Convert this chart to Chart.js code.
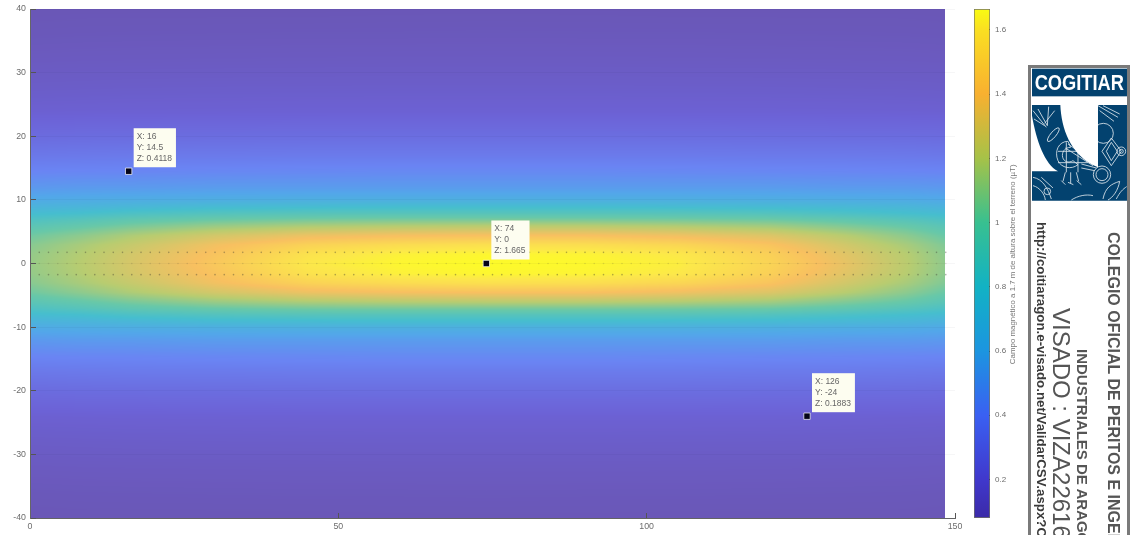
<!DOCTYPE html>
<html>
<head>
<meta charset="utf-8">
<title>Campo magnético</title>
<script src="https://cdn.jsdelivr.net/npm/chart.js@4/dist/chart.umd.min.js"></script>
<style>
  html, body { margin: 0; padding: 0; background: #fff; overflow: hidden; }
  body { width: 1135px; height: 535px; position: relative; }
  canvas { position: absolute; top: 0; display: block; filter: blur(0.4px); }
  #fieldChart { left: 0; }
  #barChart { left: 965px; }
  #stamp { position: absolute; left: 0; top: 0; filter: blur(0.4px); }
</style>
</head>
<body>
<canvas id="fieldChart" width="970" height="535"></canvas>
<canvas id="barChart" width="60" height="535"></canvas>

<svg id="stamp" width="1135" height="535" viewBox="0 0 1135 535" style="pointer-events:none">
  <rect x="1029.5" y="66.5" width="99" height="480" fill="#fff" stroke="#7a7a7a" stroke-width="3"/>
  <g transform="translate(1028 64) scale(0.3333)">
    <rect x="12" y="14" width="285" height="83" fill="#03426f"/>
    <text x="154" y="77" text-anchor="middle" font-family="Liberation Sans" font-weight="bold" font-size="68" fill="#fff" textLength="268" lengthAdjust="spacingAndGlyphs">COGITIAR</text>
    <path d="M12 123H97C100 190 125 275 210 310V123H297V410H12V322H90C50 300 25 230 12 155Z" fill="#03426f"/>
    <g fill="none" stroke="#fff" stroke-width="2.6" opacity="0.85">
      <path d="M15 140L55 190M30 135L58 185M62 128L58 185M80 140L50 178M18 165L50 185"/>
      <ellipse cx="76" cy="212" rx="26" ry="8" transform="rotate(-50 76 212)"/>
      <path d="M120 232C92 232 78 262 90 290C100 312 130 318 150 302L135 290C122 298 108 294 104 280C100 266 110 250 128 250Z"/>
      <path d="M115 235V325M150 262V325M90 262H180M90 296H180"/>
      <path d="M112 252L195 305M120 240L205 298"/>
      <path d="M160 300L205 312M160 312L200 320"/>
      <circle cx="222" cy="332" r="26"/><circle cx="222" cy="332" r="18"/>
      <circle cx="226" cy="208" r="30"/>
      <path d="M250 222L280 262L250 305L222 262Z M250 235L268 262L250 290L235 262Z"/>
      <circle cx="280" cy="262" r="13"/><circle cx="280" cy="262" r="6"/>
      <path d="M210 125L270 160M225 125L275 150M215 140L258 172"/>
      <path d="M112 325L105 352M128 325V358M145 325L152 352M100 350L112 362M120 355L136 362M146 350L160 362"/>
      <path d="M15 340C45 345 60 375 70 405M15 365C35 370 50 390 52 408M40 340L75 372"/>
      <circle cx="58" cy="382" r="10"/>
      <path d="M225 405C232 370 250 360 275 352C270 380 255 400 240 408M265 405C275 385 285 375 296 368"/>
      <path d="M130 408C150 395 175 390 195 395"/>
    </g>
  </g>
  <g font-family="Liberation Sans" fill="#555">
    <text transform="translate(1108 232) rotate(90)" font-weight="bold" font-size="16">COLEGIO OFICIAL DE PERITOS E INGENIEROS</text>
    <text transform="translate(1077 349) rotate(90)" font-weight="bold" font-size="15">INDUSTRIALES DE ARAGÓN</text>
    <text transform="translate(1053 308) rotate(90)" font-size="24">VISADO : VIZA22616</text>
    <text transform="translate(1037 222) rotate(90)" font-weight="bold" font-size="13.3" fill="#3a3a3a">http://coitiaragon.e-visado.net/ValidarCSV.aspx?CSV</text>
  </g>
</svg>

<script>
// --- data ---
const zXs = [0, 8, 16, 30, 45, 60, 74, 90, 105, 120, 132, 142, 148.4];
const zYs = [40, 36, 32, 28, 24, 20, 17, 14.5, 12, 10, 9, 8, 7, 6, 4.5, 3, 1.5, 0,
  -1.5, -3, -4.5, -6, -7, -8, -9, -10, -12, -14.5, -17, -20, -24, -28, -32, -36, -40];
const zRows = [
  [0.088, 0.090, 0.090, 0.090, 0.090, 0.092, 0.092, 0.092, 0.090, 0.090, 0.090, 0.090, 0.088],
  [0.102, 0.104, 0.105, 0.106, 0.107, 0.107, 0.108, 0.107, 0.107, 0.106, 0.105, 0.104, 0.102],
  [0.122, 0.124, 0.125, 0.126, 0.127, 0.128, 0.128, 0.128, 0.127, 0.126, 0.125, 0.124, 0.122],
  [0.148, 0.150, 0.152, 0.154, 0.155, 0.156, 0.156, 0.156, 0.155, 0.154, 0.152, 0.150, 0.148],
  [0.183, 0.185, 0.187, 0.188, 0.190, 0.190, 0.190, 0.190, 0.190, 0.189, 0.187, 0.185, 0.183],
  [0.255, 0.260, 0.262, 0.265, 0.268, 0.270, 0.270, 0.270, 0.268, 0.265, 0.262, 0.260, 0.255],
  [0.330, 0.335, 0.340, 0.340, 0.345, 0.345, 0.345, 0.345, 0.345, 0.340, 0.340, 0.335, 0.330],
  [0.405, 0.410, 0.412, 0.420, 0.425, 0.430, 0.430, 0.430, 0.425, 0.420, 0.415, 0.410, 0.405],
  [0.520, 0.530, 0.530, 0.540, 0.540, 0.540, 0.540, 0.540, 0.540, 0.540, 0.530, 0.530, 0.520],
  [0.640, 0.650, 0.660, 0.670, 0.680, 0.680, 0.680, 0.680, 0.680, 0.670, 0.660, 0.650, 0.630],
  [0.710, 0.720, 0.740, 0.770, 0.780, 0.790, 0.790, 0.790, 0.780, 0.770, 0.750, 0.730, 0.700],
  [0.780, 0.800, 0.840, 0.880, 0.900, 0.900, 0.900, 0.900, 0.900, 0.880, 0.840, 0.800, 0.770],
  [0.860, 0.900, 0.950, 1.000, 1.030, 1.040, 1.040, 1.040, 1.030, 1.010, 0.960, 0.900, 0.850],
  [0.930, 0.980, 1.040, 1.120, 1.170, 1.190, 1.200, 1.200, 1.180, 1.140, 1.060, 0.990, 0.920],
  [1.020, 1.090, 1.170, 1.280, 1.360, 1.390, 1.400, 1.400, 1.370, 1.310, 1.200, 1.090, 1.000],
  [1.080, 1.160, 1.240, 1.380, 1.490, 1.540, 1.560, 1.550, 1.510, 1.420, 1.280, 1.160, 1.060],
  [1.110, 1.190, 1.280, 1.420, 1.570, 1.630, 1.650, 1.640, 1.600, 1.480, 1.330, 1.200, 1.090],
  [1.120, 1.200, 1.290, 1.440, 1.600, 1.650, 1.665, 1.655, 1.620, 1.500, 1.350, 1.210, 1.100],
  [1.110, 1.190, 1.280, 1.420, 1.570, 1.630, 1.650, 1.640, 1.600, 1.480, 1.330, 1.200, 1.090],
  [1.080, 1.160, 1.240, 1.380, 1.490, 1.540, 1.560, 1.550, 1.510, 1.420, 1.280, 1.160, 1.060],
  [1.020, 1.090, 1.170, 1.280, 1.360, 1.390, 1.400, 1.400, 1.370, 1.310, 1.200, 1.090, 1.000],
  [0.930, 0.980, 1.040, 1.120, 1.170, 1.190, 1.200, 1.200, 1.180, 1.140, 1.060, 0.990, 0.920],
  [0.860, 0.900, 0.950, 1.000, 1.030, 1.040, 1.040, 1.040, 1.030, 1.010, 0.960, 0.900, 0.850],
  [0.780, 0.800, 0.840, 0.880, 0.900, 0.900, 0.900, 0.900, 0.900, 0.880, 0.840, 0.800, 0.770],
  [0.710, 0.720, 0.740, 0.770, 0.780, 0.790, 0.790, 0.790, 0.780, 0.770, 0.750, 0.730, 0.700],
  [0.640, 0.650, 0.660, 0.670, 0.680, 0.680, 0.680, 0.680, 0.680, 0.670, 0.660, 0.650, 0.630],
  [0.520, 0.530, 0.530, 0.540, 0.540, 0.540, 0.540, 0.540, 0.540, 0.540, 0.530, 0.530, 0.520],
  [0.405, 0.410, 0.412, 0.420, 0.425, 0.430, 0.430, 0.430, 0.425, 0.420, 0.415, 0.410, 0.405],
  [0.330, 0.335, 0.340, 0.340, 0.345, 0.345, 0.345, 0.345, 0.345, 0.340, 0.340, 0.335, 0.330],
  [0.255, 0.260, 0.262, 0.265, 0.268, 0.270, 0.270, 0.270, 0.268, 0.265, 0.262, 0.260, 0.255],
  [0.183, 0.185, 0.187, 0.188, 0.190, 0.190, 0.190, 0.190, 0.190, 0.189, 0.187, 0.185, 0.183],
  [0.148, 0.150, 0.152, 0.154, 0.155, 0.156, 0.156, 0.156, 0.155, 0.154, 0.152, 0.150, 0.148],
  [0.122, 0.124, 0.125, 0.126, 0.127, 0.128, 0.128, 0.128, 0.127, 0.126, 0.125, 0.124, 0.122],
  [0.102, 0.104, 0.105, 0.106, 0.107, 0.107, 0.108, 0.107, 0.107, 0.106, 0.105, 0.104, 0.102],
  [0.088, 0.090, 0.090, 0.090, 0.090, 0.092, 0.092, 0.092, 0.090, 0.090, 0.090, 0.090, 0.088]
];

// conductor dots along the axis
const dotXs = [0, 1.5, 3, 4.5, 6, 7.5, 9, 10.5, 12, 13.5, 15, 16.5, 18, 19.5, 21, 22.5, 24, 25.5, 27, 28.5,
  30, 31.5, 33, 34.5, 36, 37.5, 39, 40.5, 42, 43.5, 45, 46.5, 48, 49.5, 51, 52.5, 54, 55.5, 57, 58.5,
  60, 61.5, 63, 64.5, 66, 67.5, 69, 70.5, 72, 73.5, 75, 76.5, 78, 79.5, 81, 82.5, 84, 85.5, 87, 88.5,
  90, 91.5, 93, 94.5, 96, 97.5, 99, 100.5, 102, 103.5, 105, 106.5, 108, 109.5, 111, 112.5, 114, 115.5, 117, 118.5,
  120, 121.5, 123, 124.5, 126, 127.5, 129, 130.5, 132, 133.5, 135, 136.5, 138, 139.5, 141, 142.5, 144, 145.5, 147, 148.5];
const dotRows = [1.75, 0, -1.75];

// data tips
const tipX = [16, 74, 126];
const tipY = [14.5, 0, -24];
const tipZ = ['0.4118', '1.665', '0.1883'];

const xTicks = [0, 50, 100, 150];
const yTicks = [-40, -30, -20, -10, 0, 10, 20, 30, 40];
const barTicks = [0.2, 0.4, 0.6, 0.8, 1, 1.2, 1.4, 1.6];
const zMin = 0.08;
const zMax = 1.665;

// colour scale, the surface is paler than the colorbar so it has its own list
const colorZ = [0.08, 0.2, 0.4, 0.6, 0.8, 1.0, 1.2, 1.4, 1.6, 1.665];
const colorHex = ['#3b2aa8', '#4038cc', '#3a60f2', '#1c95e0', '#12b2c4', '#38c090', '#a6c248', '#f8b030', '#fadf22', '#f9fb12'];
const surfaceHex = ['#6a56b4', '#6c62d6', '#6a84f3', '#53a6ea', '#46bece', '#68c8a8', '#b8cc70', '#f8c060', '#fce84a', '#fdfb28'];
const barTitle = 'Campo magnético a 1.7 m de altura sobre el terreno (µT)';

const tickFont = { family: 'Liberation Sans', size: 8.8 };
const tickGrey = '#6c6c6c';

function hexRgb(h) {
    return [parseInt(h.slice(1, 3), 16), parseInt(h.slice(3, 5), 16), parseInt(h.slice(5, 7), 16)];
}

// fixed axis box, the label overhang must not push the plot area around
function fixBox(s, w, h) {
    if (w) s.width = w;
    if (h) s.height = h;
    s.paddingTop = s.paddingBottom = s.paddingLeft = s.paddingRight = 0;
}

function surfaceColor(z) {
    let i = 0;
    while (i < colorZ.length - 2 && z > colorZ[i + 1]) i++;
    const t = Math.min(1, Math.max(0, (z - colorZ[i]) / (colorZ[i + 1] - colorZ[i])));
    const a = hexRgb(surfaceHex[i]), b = hexRgb(surfaceHex[i + 1]);
    return [0, 1, 2].map(k => a[k] + (b[k] - a[k]) * t);
}

// --- plugin: shaded surface, one bilinear patch per table cell ---
const surfacePlugin = {
    id: 'surface',
    beforeDatasetsDraw(chart) {
        const sx = chart.scales.x, sy = chart.scales.y;
        const off = document.createElement('canvas');
        off.width = chart.width;
        off.height = chart.height;
        const oc = off.getContext('2d');
        const img = oc.createImageData(off.width, off.height);
        for (let j = 0; j < zYs.length - 1; j++) {
            const y0 = sy.getPixelForValue(zYs[j]), y1 = sy.getPixelForValue(zYs[j + 1]);
            for (let i = 0; i < zXs.length - 1; i++) {
                const x0 = sx.getPixelForValue(zXs[i]), x1 = sx.getPixelForValue(zXs[i + 1]);
                const a = zRows[j][i], b = zRows[j][i + 1], c = zRows[j + 1][i], d = zRows[j + 1][i + 1];
                for (let py = Math.round(y0); py < Math.round(y1); py++) {
                    const u = (py - y0) / (y1 - y0);
                    for (let px = Math.round(x0); px < Math.round(x1); px++) {
                        const t = (px - x0) / (x1 - x0);
                        const z = (a * (1 - t) + b * t) * (1 - u) + (c * (1 - t) + d * t) * u;
                        const rgb = surfaceColor(z);
                        const o = (py * off.width + px) * 4;
                        img.data[o] = rgb[0];
                        img.data[o + 1] = rgb[1];
                        img.data[o + 2] = rgb[2];
                        img.data[o + 3] = 255;
                    }
                }
            }
        }
        oc.putImageData(img, 0, 0);
        chart.ctx.drawImage(off, 0, 0);
    }
};

// --- plugin: the little data tip boxes ---
const tipPlugin = {
    id: 'tips',
    afterDraw(chart) {
        const ctx = chart.ctx;
        ctx.save();
        ctx.font = '8.5px "Liberation Sans"';
        ctx.textBaseline = 'middle';
        tipX.forEach((xv, i) => {
            const px = chart.scales.x.getPixelForValue(xv);
            const py = chart.scales.y.getPixelForValue(tipY[i]);
            const lines = ['X: ' + xv, 'Y: ' + tipY[i], 'Z: ' + tipZ[i]];
            const w = Math.max(...lines.map(l => ctx.measureText(l).width)) + 7;
            const left = px + 5, top = py - 43;
            ctx.fillStyle = '#fdfdf0';
            ctx.fillRect(left, top, w, 39);
            ctx.fillStyle = '#666';
            lines.forEach((l, k) => ctx.fillText(l, left + 3, top + 8 + k * 11));
        });
        ctx.restore();
    }
};

// --- plugin: colorbar title, reads bottom to top ---
const barTitlePlugin = {
    id: 'barTitle',
    afterDraw(chart) {
        const ctx = chart.ctx;
        ctx.save();
        ctx.translate(50, chart.scales.y.getPixelForValue(0.87));
        ctx.rotate(-Math.PI / 2);
        ctx.font = '7.9px "Liberation Sans"';
        ctx.fillStyle = '#777';
        ctx.textAlign = 'center';
        ctx.fillText(barTitle, 0, 0);
        ctx.restore();
    }
};

const dotSets = dotRows.map((yv, r) => ({
    label: 'dots' + r,
    data: dotXs.map(x => ({ x, y: yv })),
    pointRadius: 0.8,
    pointBorderWidth: 0,
    pointBackgroundColor: yv === 0 ? 'rgba(90,90,60,0.18)' : 'rgba(60,60,50,0.4)',
    showLine: false
}));

new Chart(document.getElementById('fieldChart'), {
    type: 'scatter',
    data: {
        datasets: [...dotSets, {
            label: 'tips',
            data: tipX.map((x, i) => ({ x, y: tipY[i] })),
            pointStyle: 'rect',
            pointRadius: 4.5,
            pointBackgroundColor: '#05051a',
            pointBorderColor: 'rgba(255,255,255,0.7)',
            pointBorderWidth: 1
        }]
    },
    options: {
        responsive: false,
        animation: false,
        devicePixelRatio: 1,
        layout: { autoPadding: false, padding: { top: 9, right: 15 } },
        plugins: { legend: { display: false }, tooltip: { enabled: false } },
        scales: {
            x: {
                type: 'linear', min: 0, max: 150,
                afterBuildTicks: s => { s.ticks = xTicks.map(value => ({ value })); },
                afterFit: s => fixBox(s, 0, 17),
                border: { z: 1, color: '#666', width: 1 },
                grid: { z: 1, color: 'rgba(0,0,0,0)', tickColor: '#555', tickLength: -5 },
                ticks: { font: tickFont, color: tickGrey, padding: 8, maxRotation: 0 }
            },
            y: {
                type: 'linear', min: -40, max: 40,
                afterBuildTicks: s => { s.ticks = yTicks.map(value => ({ value })); },
                afterFit: s => fixBox(s, 30, 0),
                border: { z: 1, color: '#666', width: 1 },
                grid: { z: 1, color: 'rgba(30,20,60,0.04)', tickColor: '#555', tickLength: -6 },
                ticks: { font: tickFont, color: tickGrey, padding: 10 }
            }
        }
    },
    plugins: [surfacePlugin, tipPlugin]
});

new Chart(document.getElementById('barChart'), {
    type: 'bar',
    data: {
        labels: ['z'],
        datasets: [{
            data: [[zMin, zMax]],
            barPercentage: 1,
            categoryPercentage: 1,
            borderSkipped: false,
            borderWidth: 1,
            borderColor: 'rgba(70,70,50,0.75)',
            backgroundColor(ctx) {
                const chart = ctx.chart;
                if (!chart.chartArea) return colorHex[0];
                const y = chart.scales.y;
                const g = chart.ctx.createLinearGradient(0, y.getPixelForValue(zMin), 0, y.getPixelForValue(zMax));
                colorZ.forEach((z, i) => g.addColorStop((z - zMin) / (zMax - zMin), colorHex[i]));
                return g;
            }
        }]
    },
    options: {
        responsive: false,
        animation: false,
        devicePixelRatio: 1,
        layout: { autoPadding: false, padding: { top: 9, bottom: 17, left: 9 } },
        plugins: { legend: { display: false }, tooltip: { enabled: false } },
        scales: {
            x: { display: false },
            y: {
                position: 'right',
                min: zMin, max: zMax,
                afterBuildTicks: s => { s.ticks = barTicks.map(value => ({ value })); },
                afterFit: s => fixBox(s, 35, 0),
                border: { display: false },
                grid: { drawOnChartArea: false, tickColor: '#444', tickLength: -5 },
                ticks: { font: { family: 'Liberation Sans', size: 8 }, color: tickGrey, padding: 10, callback: v => String(v) }
            }
        }
    },
    plugins: [barTitlePlugin]
});
</script>
</body>
</html>
